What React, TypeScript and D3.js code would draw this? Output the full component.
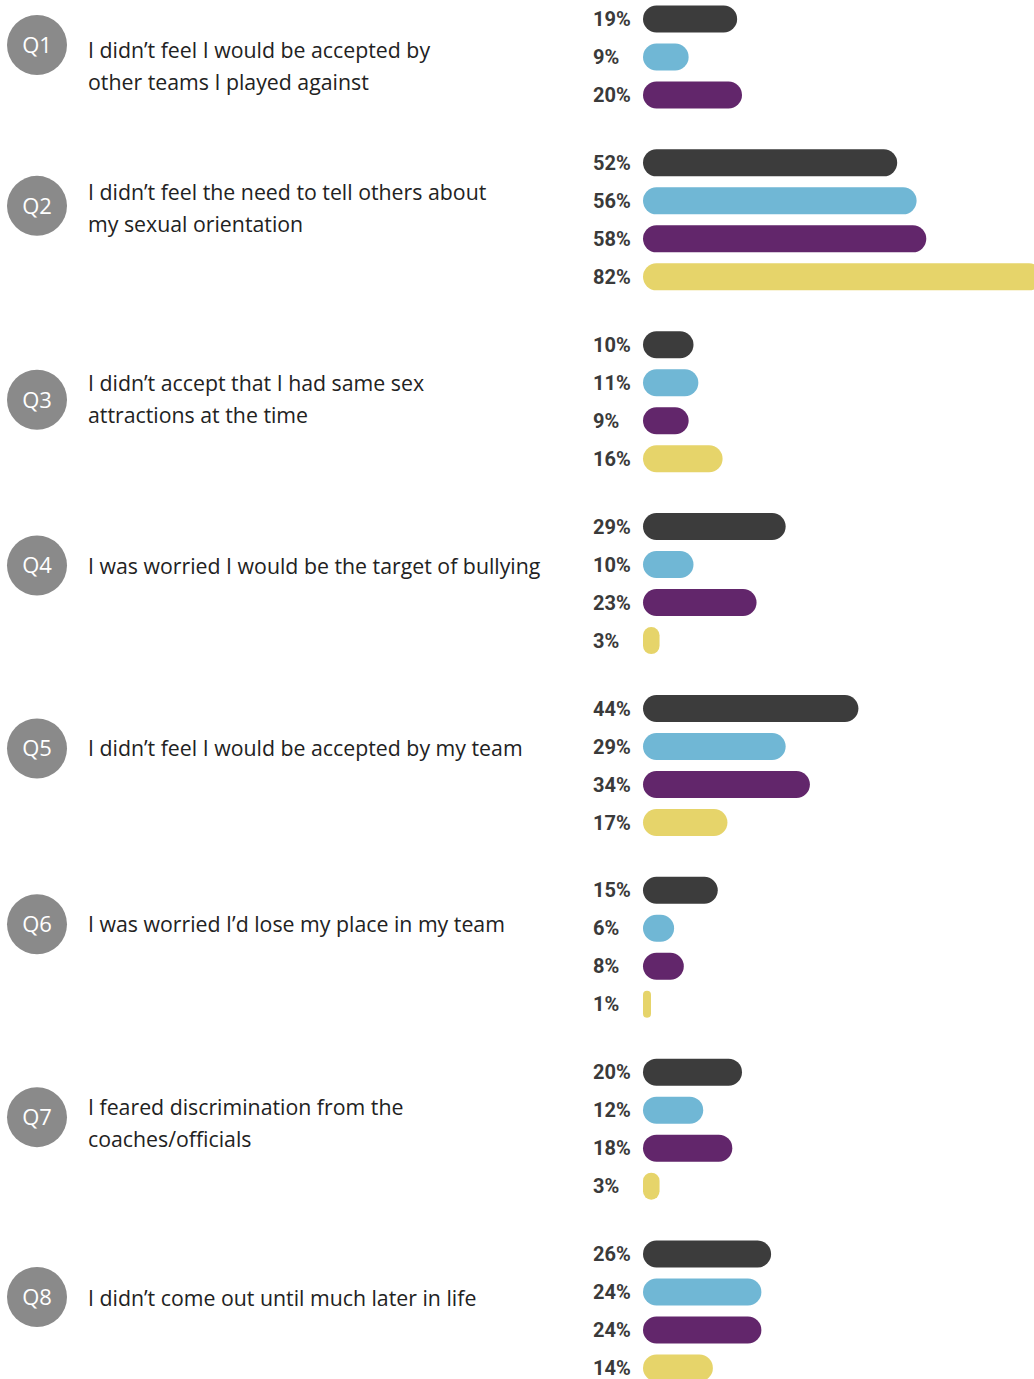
import React from "react";
import * as d3 from "d3";

const questions = ["Q1", "Q2", "Q3", "Q4", "Q5", "Q6", "Q7", "Q8"];
const questionText: string[][] = [
  ["I didn’t feel I would be accepted by", "other teams I played against"],
  ["I didn’t feel the need to tell others about", "my sexual orientation"],
  ["I didn’t accept that I had same sex", "attractions at the time"],
  ["I was worried I would be the target of bullying"],
  ["I didn’t feel I would be accepted by my team"],
  ["I was worried I’d lose my place in my team"],
  ["I feared discrimination from the", "coaches/officials"],
  ["I didn’t come out until much later in life"],
];
const seriesDark = [19, 52, 10, 29, 44, 15, 20, 26];
const seriesBlue = [9, 56, 11, 10, 29, 6, 12, 24];
const seriesPurple = [20, 58, 9, 23, 34, 8, 18, 24];
const seriesYellow: (number | null)[] = [null, 82, 16, 3, 17, 1, 3, 14];

// layout (not data)
const COLORS = ["#3c3c3c", "#70b7d5", "#62266b", "#e6d46a"];
const CIRCLE_OFFSET = [64, 43, 55, 39, 40, 34, 45, 43];
const TEXT_OFFSET = [77, 37, 46, 47, 48, 42, 43, 52];

const W = 1034;
const H = 1379;

export default function App() {
  const series = [seriesDark, seriesBlue, seriesPurple, seriesYellow];
  const slot = d3.scaleLinear().domain([0, 7]).range([-19, 1254]);
  const row = d3.scaleLinear().domain([0, 3]).range([0, 114]);
  const x = d3.scaleLinear().domain([0, 100]).range([645, 645 + 485]);
  const x0 = 643;
  const barH = 27;

  return (
    <svg
      width={W}
      height={H}
      style={{ position: "absolute", left: 0, top: 0, background: "#fff" }}
    >
      {questions.map((q, i) => {
        const vals = series
          .map((s, k) => ({ v: s[i], k }))
          .filter((d) => d.v !== null && d.v !== undefined) as { v: number; k: number }[];
        const shift = 4 - vals.length;
        const top = slot(i);
        return (
          <g key={q}>
            <circle cx={37} cy={top + CIRCLE_OFFSET[i]} r={30} fill="#8a8a8a" />
            <text
              x={37}
              y={top + CIRCLE_OFFSET[i]}
              dy="0.36em"
              textAnchor="middle"
              fill="#fff"
              fontFamily="'Open Sans', sans-serif"
              fontSize={22}
            >
              {q}
            </text>
            {questionText[i].map((line, li) => (
              <text
                key={li}
                x={88}
                y={top + TEXT_OFFSET[i] + li * 32}
                fill="#222"
                fontFamily="'Open Sans', sans-serif"
                fontSize={21.3}
              >
                {line}
              </text>
            ))}
            {vals.map((d, j) => {
              const cy = top + row(j + shift);
              const w = Math.max(8, x(d.v) - x0);
              return (
                <g key={d.k}>
                  <rect
                    x={x0}
                    y={cy - barH / 2}
                    width={w}
                    height={barH}
                    rx={Math.min(barH / 2, w / 2)}
                    fill={COLORS[d.k]}
                  />
                  <text
                    x={593}
                    y={cy}
                    dy="0.36em"
                    fill="#3a3a3a"
                    fontFamily="Roboto, sans-serif"
                    fontWeight={700}
                    fontSize={20}
                  >
                    {d.v}%
                  </text>
                </g>
              );
            })}
          </g>
        );
      })}
    </svg>
  );
}
